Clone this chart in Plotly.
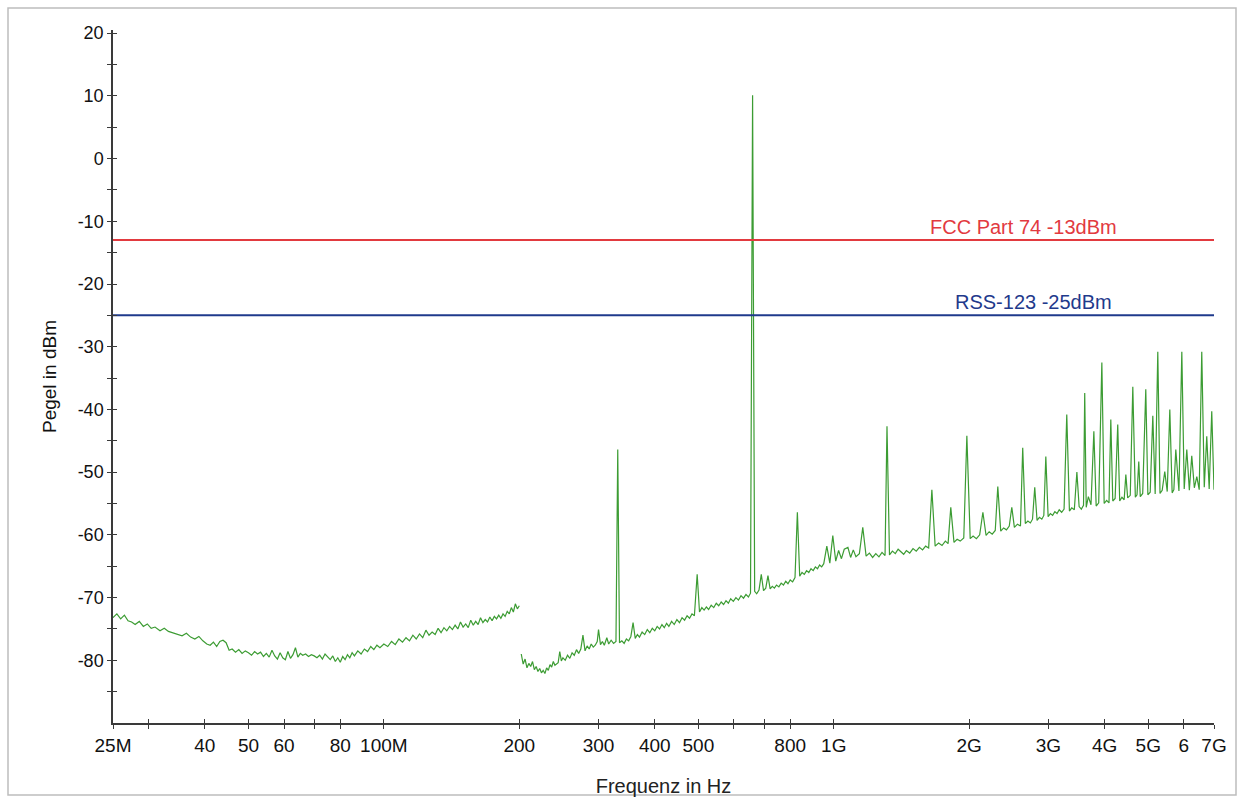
import math
import plotly.graph_objects as go

# ---------------- data ----------------
# Spectrum part 1 (25 MHz .. 200 MHz): frequency in MHz, level in dBm
seg1_freq_mhz = [
    25.0, 25.5, 26.0, 26.5, 27.0, 27.5, 28.0, 28.6, 29.2, 29.8, 30.4, 31.0, 31.8, 32.5, 33.2,
    34.0, 34.8, 35.6, 36.4, 37.2, 38.0, 38.8, 39.6, 40.4, 41.1, 41.8, 42.5, 43.2, 43.9, 44.6,
    45.3, 46.0, 46.8, 47.6, 48.4, 49.2, 50.0, 50.8, 51.6, 52.4, 53.2, 54.0, 54.8, 55.6, 56.4,
    57.2, 58.0, 58.8, 59.6, 60.4, 61.2, 62.0, 62.8, 63.6, 64.4, 65.2, 66.0, 67.0, 68.0, 69.0,
    70.0, 71.0, 72.0, 73.0, 74.0, 75.0, 76.0, 77.0, 78.0, 79.0, 80.0, 81.0, 82.0, 83.0, 84.0,
    85.0, 86.0, 87.5, 89.0, 90.5, 92.0, 93.5, 95.0, 96.5, 98.0, 100.0, 102, 104, 106, 108,
    110, 112, 114, 116, 118, 120, 122, 124, 126, 128, 130, 132, 134, 136, 138,
    140, 142, 144, 146, 148, 150, 152, 154, 156, 158, 160, 162, 164, 166, 168,
    170, 172, 174, 176, 178, 180, 182, 184, 186, 188, 190, 192, 194, 196, 198, 200,
]
seg1_level_dbm = [
    -73.2, -72.6, -73.4, -72.8, -73.7, -73.9, -74.3, -73.8, -74.6, -74.2, -74.9, -74.7, -75.3, -74.9, -75.4,
    -75.6, -75.8, -76.1, -75.7, -76.3, -76.6, -76.2, -76.9, -77.4, -77.6, -77.1, -77.8, -77.0, -76.8, -77.2,
    -78.4, -78.2, -78.7, -78.3, -78.9, -78.5, -78.8, -79.2, -78.6, -79.0, -78.7, -79.4, -78.9, -79.5, -78.4,
    -79.3, -79.8, -78.8, -79.6, -79.9, -78.6, -79.7, -79.1, -78.0, -79.5, -78.9, -79.2, -79.0, -79.4, -79.1,
    -79.3, -79.6, -79.2, -79.8, -79.0, -79.5, -79.9, -79.3, -80.2, -79.6, -80.3, -79.4, -79.9, -79.1, -79.6,
    -78.8, -79.3, -78.5, -79.0, -78.2, -78.6, -77.8, -78.3, -77.6, -78.0, -77.4, -77.8, -77.0, -77.5, -76.6,
    -77.1, -76.4, -76.9, -76.0, -76.6, -75.8, -76.4, -75.2, -76.0, -75.5, -75.9, -74.9, -75.6, -74.8, -75.3,
    -74.6, -75.1, -74.4, -75.0, -73.9, -74.7, -74.2, -74.8, -73.6, -74.4, -73.8, -74.3, -73.2, -74.0, -73.5,
    -73.9, -73.1, -73.7, -73.0, -73.4, -72.8, -73.3, -72.6, -73.0, -72.2, -72.6, -71.6, -72.3, -71.0, -71.8, -71.3,
]

# Spectrum part 2 (200 MHz .. 7 GHz): frequency in MHz, level in dBm
seg2_freq_mhz = [
    202, 204, 206, 208, 210, 212, 214, 216, 218, 220, 222, 224, 226, 228, 230, 232, 234, 236, 238, 240,
    244, 246, 248, 250, 253, 256, 259, 262, 265, 268, 271, 274, 277, 280, 283, 286, 289, 292, 295, 298,
    300, 303, 306, 309, 313, 316, 320, 324, 328, 331, 334, 338, 342, 346, 350, 354, 358, 362, 366, 370,
    375, 380, 385, 390, 395, 400, 405, 410, 415, 420, 425, 430, 436, 442, 448, 454, 460, 466, 472, 478,
    484, 490, 497, 503, 509, 515, 521, 527, 534, 541, 548, 555, 562, 569, 576, 583, 590, 598, 606, 614,
    622, 630, 638, 646, 653, 660, 667, 674, 682, 690, 698, 706, 714, 722, 730, 738, 746, 755, 764, 773,
    782, 791, 800, 810, 820, 830, 840, 850, 860, 870, 880, 890, 900, 910, 920, 930, 940, 950, 965, 980,
    995, 1010, 1025, 1040, 1055, 1075, 1090, 1105, 1120, 1140, 1160, 1180, 1200, 1220, 1240, 1260, 1280, 1300, 1313, 1330,
    1350, 1370, 1390, 1410, 1430, 1450, 1475, 1500, 1525, 1550, 1575, 1600, 1625, 1652, 1680, 1710, 1740, 1770, 1795, 1820,
    1850, 1880, 1910, 1945, 1976, 2010, 2040, 2075, 2110, 2145, 2180, 2215, 2250, 2285, 2315, 2350, 2385, 2420, 2455, 2487,
    2520, 2560, 2600, 2630, 2665, 2700, 2735, 2765, 2797, 2830, 2865, 2900, 2930, 2960, 2995, 3030, 3065, 3100, 3135, 3170,
    3210, 3250, 3295, 3340, 3380, 3425, 3470, 3510, 3550, 3590, 3612, 3640, 3680, 3730, 3785, 3830, 3880, 3943, 3990, 4040,
    4090, 4128, 4170, 4220, 4277, 4320, 4370, 4420, 4458, 4500, 4560, 4620, 4680, 4720, 4763, 4800, 4860, 4937, 4990, 5050,
    5118, 5180, 5250, 5310, 5370, 5441, 5510, 5583, 5650, 5700, 5757, 5850, 5937, 6010, 6090, 6170, 6247, 6330, 6410, 6490,
    6575, 6660, 6745, 6830, 6920, 7000,
]
seg2_level_dbm = [
    -79.0, -80.6, -79.8, -81.2, -80.5, -81.0, -80.2, -81.5, -81.0, -81.8, -81.3, -82.0, -81.6, -82.1, -81.2, -81.6, -80.7, -81.1, -80.2, -80.8,
    -80.4, -78.6, -80.1, -79.6, -80.0, -79.2, -79.7, -78.8, -79.2, -78.3, -78.9, -78.2, -76.0, -78.5, -77.7, -78.2, -77.4, -77.9, -77.6, -77.0,
    -75.1, -77.5, -77.0, -77.6, -76.4, -77.4, -76.8, -77.3, -77.0, -46.4, -77.2, -76.9, -77.3, -76.6, -76.9, -76.2, -74.0, -76.5, -75.9, -76.3,
    -75.5, -75.9, -75.1, -75.6, -74.9, -75.3, -74.6, -75.0, -74.3, -74.8, -74.1, -74.6, -73.8, -74.3, -73.5, -74.0, -73.2, -73.6, -72.9, -73.3,
    -72.6, -72.9, -66.3, -72.3, -71.6, -72.0, -71.5, -71.9, -71.2, -71.6, -70.9, -71.3, -70.7, -71.1, -70.5, -70.9, -70.2, -70.6, -70.0, -70.4,
    -69.7, -70.1, -69.5, -69.9, -69.3, 10.1, -69.0, -69.4, -68.8, -66.3, -68.9, -68.5, -66.5, -68.6, -68.2, -68.5, -68.0, -68.3, -67.7, -68.0,
    -67.4, -67.8, -67.2, -67.5, -66.8, -56.4, -66.6, -66.0, -66.3, -65.7, -66.0, -65.4, -65.7, -65.1, -65.4, -64.8, -65.1, -64.6, -61.8, -64.5,
    -60.1, -64.2, -62.5, -63.8, -62.3, -62.0, -63.6, -62.4, -63.5, -63.0, -58.8, -63.4, -62.9, -63.6, -63.0, -63.5, -62.8, -63.3, -42.7, -63.2,
    -62.6, -63.0, -62.3, -62.7, -63.1, -62.5, -62.9, -62.2, -62.6, -62.0, -62.4, -61.8, -62.1, -52.8, -61.8, -61.3, -61.7, -61.0, -61.4, -55.6,
    -61.2, -60.7, -61.0, -60.5, -44.2, -60.6, -60.2, -60.6, -60.0, -56.4, -60.1, -59.5, -59.9, -59.3, -52.3, -59.4, -58.9, -59.2, -58.6, -55.6,
    -58.8, -58.3, -58.6, -46.1, -58.2, -57.8, -58.1, -57.5, -52.4, -57.7, -57.2, -57.5, -56.9, -47.5, -57.1, -56.6, -56.9, -56.3, -56.6, -56.0,
    -56.4, -55.9, -40.8, -56.2, -55.7, -56.0, -50.0, -55.5, -55.9, -55.3, -37.4, -55.6, -53.9, -55.2, -43.5, -55.4, -54.9, -32.5, -55.0, -54.5,
    -54.9, -41.6, -54.6, -54.2, -42.4, -54.6, -54.0, -54.4, -50.4, -54.1, -53.7, -36.4, -54.0, -53.6, -48.3, -53.9, -53.4, -36.8, -53.6, -53.2,
    -41.0, -53.5, -30.8, -53.4, -52.9, -49.9, -53.1, -40.0, -53.3, -52.8, -46.4, -53.0, -30.8, -52.7, -46.4, -52.9, -47.4, -52.5, -50.7, -52.8,
    -30.8, -52.4, -44.3, -52.7, -40.3, -52.8,
]

# Limit lines
limit_names = ["FCC Part 74 -13dBm", "RSS-123 -25dBm"]
limit_levels_dbm = [-13, -25]
limit_colors = ["#e23a3f", "#1f3a8c"]
limit_span_mhz = [25, 7000]

# Axis ticks
x_tick_mhz = [25, 30, 40, 50, 60, 70, 80, 100, 200, 300, 400, 500, 600, 700, 800,
              1000, 2000, 3000, 4000, 5000, 6000, 7000]
x_tick_text = ["25M", "", "40", "50", "60", "", "80", "100M", "200", "300", "400", "500", "", "", "800",
               "1G", "2G", "3G", "4G", "5G", "6", "7G"]
y_tick_vals = [-85, -80, -75, -70, -65, -60, -55, -50, -45, -40, -35, -30, -25, -20,
               -15, -10, -5, 0, 5, 10, 15, 20]
y_tick_text = [str(v) if v % 10 == 0 else "" for v in y_tick_vals]

# ---------------- figure ----------------
FONT = "Arial, 'Liberation Sans', sans-serif"
GREEN = "#3c9c33"
AXIS_COL = "#3a3a3a"

fig = go.Figure()
fig.add_trace(go.Scatter(x=seg1_freq_mhz, y=seg1_level_dbm, mode="lines",
                         line=dict(color=GREEN, width=1.2), showlegend=False, hoverinfo="skip"))
fig.add_trace(go.Scatter(x=seg2_freq_mhz, y=seg2_level_dbm, mode="lines",
                         line=dict(color=GREEN, width=1.2), showlegend=False, hoverinfo="skip"))
for name, lvl, col in zip(limit_names, limit_levels_dbm, limit_colors):
    fig.add_trace(go.Scatter(x=limit_span_mhz, y=[lvl, lvl], mode="lines", xaxis="x2", yaxis="y2",
                             line=dict(color=col, width=2), showlegend=False, name=name,
                             hoverinfo="skip"))

x_range = [math.log10(25), math.log10(7000)]
y_range = [-90, 20.5]

axis_common = dict(showgrid=False, zeroline=False, linecolor=AXIS_COL, linewidth=1.5,
                   tickcolor=AXIS_COL, tickwidth=1.3, ticklen=4, automargin=False)

fig.update_layout(
    width=1240, height=797,
    margin=dict(l=113, r=26, t=30, b=74),
    paper_bgcolor="white", plot_bgcolor="white",
    font=dict(family=FONT, color="#111", size=17),
    xaxis=dict(type="log", range=x_range, tickvals=x_tick_mhz, ticktext=x_tick_text,
               ticks="outside", showline=True, mirror=False,
               tickfont=dict(size=19, family=FONT, color="#111"),
               title=dict(text="Frequenz in Hz", font=dict(size=20, family=FONT, color="#222"), standoff=24),
               **axis_common),
    yaxis=dict(range=y_range, tickvals=y_tick_vals, ticktext=y_tick_text,
               ticks="outside", showline=True,
               tickfont=dict(size=18, family=FONT, color="#111"),
               title=dict(text="Pegel in dBm", font=dict(size=19, family=FONT, color="#111"), standoff=16),
               **axis_common),
    xaxis2=dict(type="log", range=x_range, tickvals=x_tick_mhz, overlaying="x", anchor="y2", side="bottom",
                ticks="inside", showticklabels=False, showline=False, **axis_common),
    yaxis2=dict(range=y_range, tickvals=y_tick_vals, overlaying="y", anchor="x2", side="left",
                ticks="inside", showticklabels=False, showline=False, **axis_common),
)

# limit-line labels (positions are in log10(MHz) on the log axis)
label_pos_mhz = [2645, 2783]
for name, lvl, col, xm in zip(limit_names, limit_levels_dbm, limit_colors, label_pos_mhz):
    fig.add_annotation(x=math.log10(xm), y=lvl, xref="x", yref="y", text=name, showarrow=False,
                       xanchor="center", yanchor="bottom", yshift=0,
                       font=dict(size=20, family=FONT, color=col))

# light frame around the picture
fig.add_shape(type="rect", xref="paper", yref="paper",
              x0=(8 - 113) / 1101, x1=(1236 - 113) / 1101,
              y0=(693 - (795 - 30)) / 693, y1=(693 - (8 - 30)) / 693,
              line=dict(color="#bdbdbd", width=1.5), fillcolor="rgba(0,0,0,0)", layer="below")

fig.write_html("out.html", config={"displayModeBar": False},
               post_script="document.body.style.margin='0';document.body.style.overflow='hidden';")
